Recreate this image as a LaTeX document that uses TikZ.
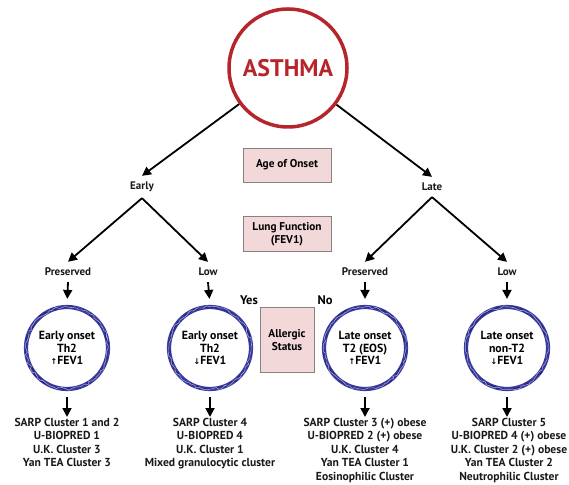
\documentclass[tikz,border=0pt]{standalone}
\usepackage{fontspec}
\setmainfont{PT Sans}
\newfontfamily\symfont{DejaVu Sans}
\usetikzlibrary{arrows.meta,decorations.pathmorphing}
\definecolor{asthmared}{HTML}{B5252B}
\definecolor{ringblue}{HTML}{3A3AA6}
\definecolor{boxpink}{HTML}{F2D8D8}
\definecolor{boxedge}{HTML}{8A8080}
\newcommand{\upar}{{\symfont\footnotesize ↑}}
\newcommand{\dnar}{{\symfont\footnotesize ↓}}
\tikzset{
  txt/.style={font=\bfseries\fontsize{11}{13.3}\selectfont, align=center, inner sep=6pt, text=black!90},
  btxt/.style={font=\bfseries\fontsize{11.6}{13.4}\selectfont, align=center, inner sep=0pt, text=black!90},
  infobox/.style={draw=boxedge, line width=0.8pt, fill=boxpink, align=center,
    font=\bfseries\fontsize{11.3}{13}\selectfont, inner sep=0pt},
  arr/.style={-{Triangle[length=9pt,width=9pt]}, line width=1.8pt, black},
  ring/.style={circle, minimum size=82pt, inner sep=0pt, draw=ringblue, line width=4.2pt,
    align=center, font=\bfseries\fontsize{11.8}{12.6}\selectfont,
    postaction={draw=ringblue!65!black, line width=1.1pt, decorate,
      decoration={random steps, segment length=2.5pt, amplitude=1.1pt}},
    postaction={draw=ringblue!45!white, line width=0.6pt, decorate,
      decoration={random steps, segment length=3pt, amplitude=1.3pt}}},
  yesno/.style={font=\bfseries\fontsize{12.5}{14}\selectfont, inner sep=0pt}
}
\begin{document}
\begin{tikzpicture}[x=1pt,y=1pt]
\pgfmathsetseed{7}
\useasboundingbox (0,0) rectangle (569,484);
% top
\node[circle, draw=asthmared, line width=3.5pt, minimum size=118pt, inner sep=0pt,
  text=asthmared, font=\bfseries\fontsize{24}{26}\selectfont] (asthma) at (288,416) {ASTHMA};
\node[txt] (early) at (142,297) {Early};
\node[txt] (late) at (432,297) {Late};
\draw[arr] (asthma) -- (early.north);
\draw[arr] (asthma) -- (late.north);
% boxes
\node[infobox, minimum width=88pt, minimum height=34pt] (age) at (287,319) {Age of Onset};
\node[infobox, minimum width=88pt, minimum height=35pt] (lung) at (287,250) {Lung Function\\(FEV1)};
\node[infobox, minimum width=54pt, minimum height=65pt] (allergic) at (287,144) {Allergic\\Status};
% second level
\node[txt] (pres1) at (68,212) {Preserved};
\node[txt] (low1) at (208,212) {Low};
\node[txt] (pres2) at (365,212) {Preserved};
\node[txt] (low2) at (507,212) {Low};
\draw[arr] (early.south) -- (pres1.north);
\draw[arr] (early.south) -- (low1.north);
\draw[arr] (late.south) -- (pres2.north);
\draw[arr] (late.south) -- (low2.north);
% rings
\node[ring] (c1) at (67,136) {Early onset\\Th2\\\upar FEV1};
\node[ring] (c2) at (210,136) {Early onset\\Th2\\\dnar FEV1};
\node[ring] (c3) at (365,136) {Late onset\\T2 (EOS)\\\upar FEV1};
\node[ring] (c4) at (507,136) {Late onset\\non-T2\\\dnar FEV1};
\draw[arr, shorten >=6pt] (pres1.south) -- (c1.north);
\draw[arr, shorten >=6pt] (low1.south) -- (c2.north);
\draw[arr, shorten >=6pt] (pres2.south) -- (c3.north);
\draw[arr, shorten >=6pt] (low2.south) -- (c4.north);
% yes / no
\node[yesno] (yes) at (249,184) {Yes};
\node[yesno] (no) at (325,184) {No};
% bottom
\node[btxt, anchor=north] (b1) at (67,66) {SARP Cluster 1 and 2\\U-BIOPRED 1\\U.K. Cluster 3\\Yan TEA Cluster 3};
\node[btxt, anchor=north] (b2) at (210,66) {SARP Cluster 4\\U-BIOPRED 4\\U.K. Cluster 1\\Mixed granulocytic cluster};
\node[btxt, anchor=north] (b3) at (365,66) {SARP Cluster 3 (+) obese\\U-BIOPRED 2 (+) obese\\U.K. Cluster 4\\Yan TEA Cluster 1\\Eosinophilic Cluster};
\node[btxt, anchor=north] (b4) at (509,66) {SARP Cluster 5\\U-BIOPRED 4 (+) obese\\U.K. Cluster 2 (+) obese\\Yan TEA Cluster 2\\Neutrophilic Cluster};
\draw[arr, shorten <=6pt, shorten >=1pt] (c1.south) -- (b1.north -| c1.south);
\draw[arr, shorten <=6pt, shorten >=1pt] (c2.south) -- (b2.north -| c2.south);
\draw[arr, shorten <=6pt, shorten >=1pt] (c3.south) -- (b3.north -| c3.south);
\draw[arr, shorten <=6pt, shorten >=1pt] (c4.south) -- (b4.north -| c4.south);
\end{tikzpicture}
\end{document}
